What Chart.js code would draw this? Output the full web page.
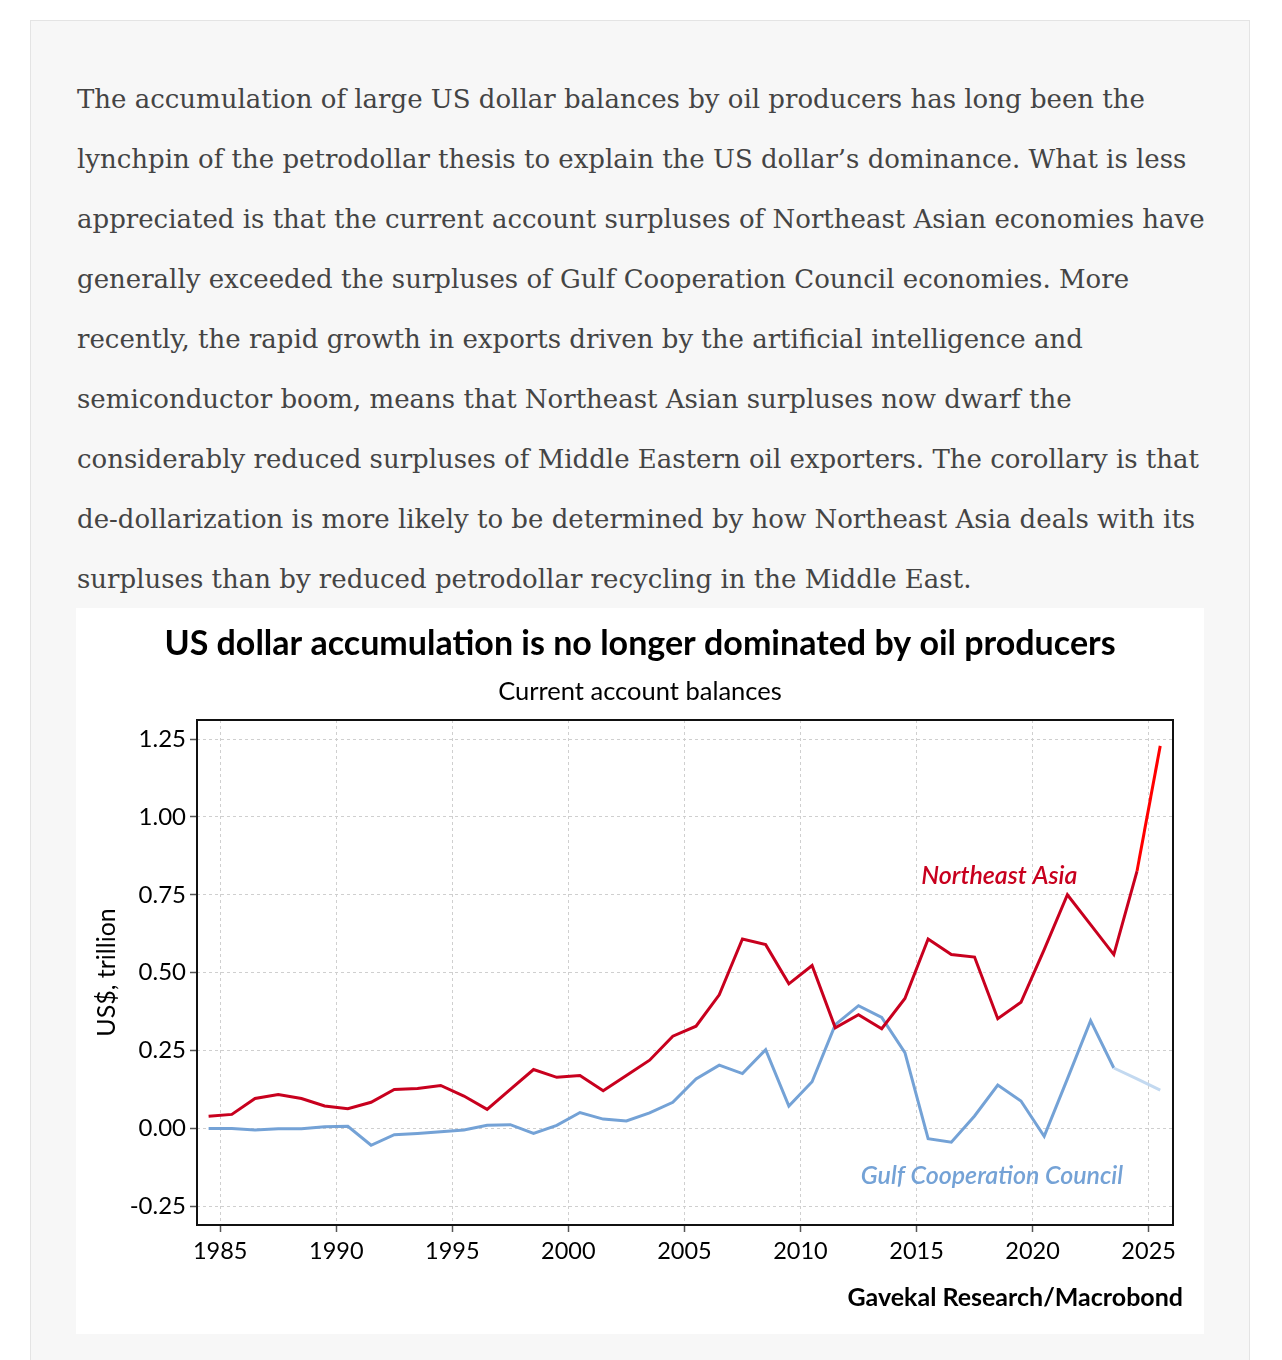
<!DOCTYPE html>
<html>
<head>
<meta charset="utf-8">
<script src="https://cdn.jsdelivr.net/npm/chart.js@4/dist/chart.umd.min.js"></script>
<style>
  html, body { margin: 0; padding: 0; background: #fff; }
  body { width: 1282px; height: 1360px; position: relative; overflow: hidden; }
  .panel {
    position: absolute; left: 30px; top: 20px; width: 1218px; height: 1400px;
    background: #f7f7f7; border: 1px solid #e4e4e4;
  }
  .intro {
    position: absolute; left: 77px; top: 69px; margin: 0;
    font-family: "DejaVu Serif", serif; font-size: 26px; line-height: 60px;
    color: #444; white-space: nowrap;
  }
  .chart-box {
    position: absolute; left: 76px; top: 608px; width: 1128px; height: 726px;
    background: #fff;
  }
</style>
</head>
<body>
<div class="panel"></div>
<p class="intro">The accumulation of large US dollar balances by oil producers has long been the<br>lynchpin of the petrodollar thesis to explain the US dollar’s dominance. What is less<br>appreciated is that the current account surpluses of Northeast Asian economies have<br>generally exceeded the surpluses of Gulf Cooperation Council economies. More<br>recently, the rapid growth in exports driven by the artificial intelligence and<br>semiconductor boom, means that Northeast Asian surpluses now dwarf the<br>considerably reduced surpluses of Middle Eastern oil exporters. The corollary is that<br>de-dollarization is more likely to be determined by how Northeast Asia deals with its<br>surpluses than by reduced petrodollar recycling in the Middle East.</p>
<div class="chart-box"><canvas id="ca-chart" width="1128" height="726"></canvas></div>
<script>
// Current account balances, US$ trillion (annual)
const years = [1984, 1985, 1986, 1987, 1988, 1989, 1990, 1991, 1992, 1993, 1994, 1995, 1996, 1997,
  1998, 1999, 2000, 2001, 2002, 2003, 2004, 2005, 2006, 2007, 2008, 2009, 2010, 2011, 2012, 2013,
  2014, 2015, 2016, 2017, 2018, 2019, 2020, 2021, 2022, 2023, 2024, 2025];
const northeastAsia = [0.039, 0.045, 0.096, 0.109, 0.096, 0.072, 0.063, 0.084, 0.125, 0.128, 0.138,
  0.104, 0.061, 0.125, 0.189, 0.164, 0.170, 0.121, 0.170, 0.219, 0.296, 0.328, 0.429, 0.608, 0.590,
  0.464, 0.523, 0.323, 0.365, 0.320, 0.417, 0.608, 0.558, 0.550, 0.352, 0.405, 0.574, 0.750, 0.654,
  0.558, 0.826, 1.228];
const gulfCooperation = [0.000, 0.000, -0.005, -0.001, -0.001, 0.005, 0.007, -0.054, -0.020, -0.016,
  -0.011, -0.005, 0.010, 0.012, -0.016, 0.010, 0.051, 0.030, 0.024, 0.050, 0.084, 0.159, 0.203, 0.176,
  0.253, 0.072, 0.150, 0.333, 0.394, 0.356, 0.243, -0.033, -0.044, 0.040, 0.139, 0.088, -0.025, 0.159,
  0.346, 0.194, 0.159, 0.123];
// first year of the projected (lighter) segments
const neaForecastFrom = 2024;
const gccForecastFrom = 2023;
const xTickYears = [1985, 1990, 1995, 2000, 2005, 2010, 2015, 2020, 2025];
const yTickValues = [-0.25, 0, 0.25, 0.5, 0.75, 1.0, 1.25];

const FONT = 'Lato, "Open Sans", sans-serif';
const RED = '#c8001e', RED_FC = '#ff0000';
const BLUE = '#74a2d6', BLUE_FC = '#c3d9f0';

// annual values plotted mid-year
const toPoints = vals => vals.map((v, i) => ({ x: years[i] + 0.5, y: v }));

const frameAndNotes = {
  id: 'frameAndNotes',
  afterDraw(chart) {
    const { ctx, chartArea: a, scales: { x, y } } = chart;
    ctx.save();
    ctx.strokeStyle = '#111';
    ctx.lineWidth = 2;
    ctx.strokeRect(a.left, a.top, a.right - a.left, a.bottom - a.top);

    ctx.font = 'italic 600 25px ' + FONT;
    ctx.textBaseline = 'middle';
    ctx.textAlign = 'left';
    ctx.fillStyle = RED;
    ctx.fillText('Northeast Asia', x.getPixelForValue(2015.2), y.getPixelForValue(0.811));
    ctx.fillStyle = BLUE;
    ctx.fillText('Gulf Cooperation Council', x.getPixelForValue(2012.6), y.getPixelForValue(-0.154));

    ctx.font = 'bold 25px ' + FONT;
    ctx.fillStyle = '#000';
    ctx.textAlign = 'right';
    ctx.fillText('Gavekal Research/Macrobond', a.right + 10, 690);
    ctx.restore();
  }
};

function renderChart() {
  const ctx = document.getElementById('ca-chart').getContext('2d');
  const gridOpts = {
    color: '#cfcfcf',
    lineWidth: 1,
    tickLength: 7,
    tickColor: '#555',
    tickWidth: 1.5,
    tickBorderDash: []
  };
  new Chart(ctx, {
    type: 'line',
    data: {
      datasets: [
        {
          label: 'Northeast Asia',
          data: toPoints(northeastAsia),
          borderColor: RED,
          borderWidth: 3,
          pointRadius: 0,
          tension: 0,
          segment: { borderColor: c => years[c.p0DataIndex] >= neaForecastFrom ? RED_FC : undefined }
        },
        {
          label: 'Gulf Cooperation Council',
          data: toPoints(gulfCooperation),
          borderColor: BLUE,
          borderWidth: 3,
          pointRadius: 0,
          tension: 0,
          segment: { borderColor: c => years[c.p0DataIndex] >= gccForecastFrom ? BLUE_FC : undefined }
        }
      ]
    },
    options: {
      responsive: false,
      animation: false,
      layout: { padding: 0 },
      plugins: {
        legend: { display: false },
        tooltip: { enabled: false },
        title: {
          display: true,
          text: 'US dollar accumulation is no longer dominated by oil producers',
          color: '#000',
          font: { family: FONT, size: 34, weight: 'bold', lineHeight: 1.2 },
          padding: { top: 15.6, bottom: 0 }
        },
        subtitle: {
          display: true,
          text: 'Current account balances',
          color: '#000',
          font: { family: FONT, size: 25.5, lineHeight: 1.2 },
          padding: { top: 12.3, bottom: 12.7 }
        }
      },
      scales: {
        x: {
          type: 'linear',
          min: 1984,
          max: 2026.05,
          afterBuildTicks: axis => { axis.ticks = xTickYears.map(v => ({ value: v })); },
          afterFit: axis => { axis.height = 109; },
          ticks: {
            color: '#000',
            font: { family: FONT, size: 23.5 },
            padding: 5,
            maxRotation: 0,
            autoSkip: false,
            callback: v => String(v)
          },
          grid: gridOpts,
          border: { display: false, dash: [3, 3] }
        },
        y: {
          min: -0.31,
          max: 1.311,
          afterBuildTicks: axis => { axis.ticks = yTickValues.map(v => ({ value: v })); },
          afterFit: axis => { axis.width = 121; },
          ticks: {
            color: '#000',
            font: { family: FONT, size: 24 },
            padding: 4,
            callback: v => v.toFixed(2)
          },
          grid: gridOpts,
          border: { display: false, dash: [3, 3] },
          title: {
            display: true,
            text: 'US$, trillion',
            color: '#000',
            font: { family: FONT, size: 25 },
            padding: { top: 16, bottom: 0 }
          }
        },
        // empty right-hand gutter so the titles stay centred on the box
        gutter: {
          position: 'right',
          display: true,
          grid: { display: false },
          ticks: { display: false },
          border: { display: false },
          afterFit: axis => { axis.width = 31; }
        }
      }
    },
    plugins: [frameAndNotes]
  });
}

if (window.Chart) {
  renderChart();
} else {
  setTimeout(() => { if (window.Chart) renderChart(); }, 200);
}
</script>
</body>
</html>
